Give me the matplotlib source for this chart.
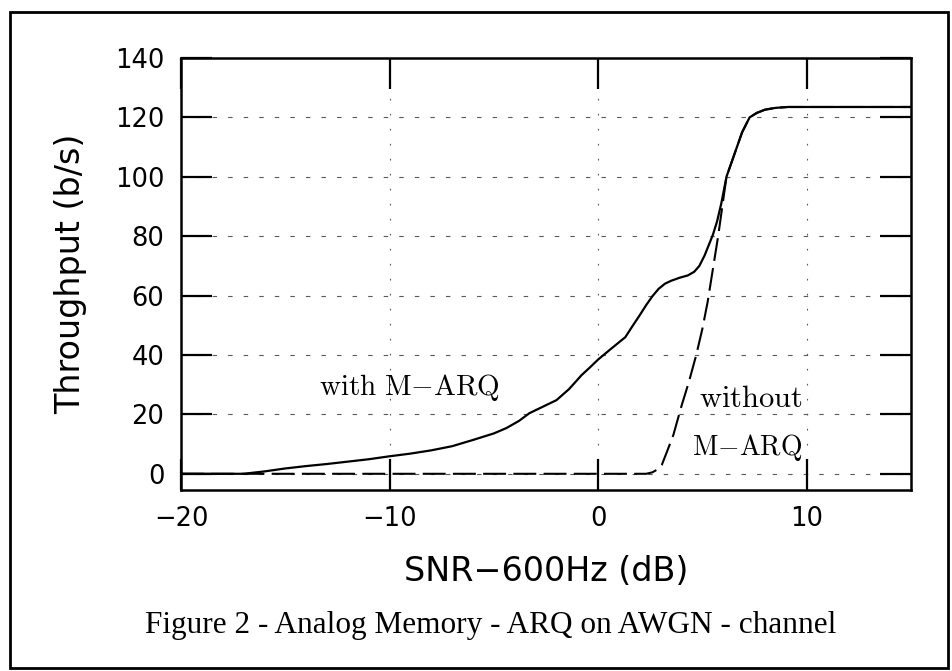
import matplotlib
matplotlib.use("Agg")
import matplotlib.pyplot as plt
from matplotlib.patches import Rectangle

plt.rcParams['mathtext.fontset'] = 'cm'
plt.rcParams['axes.unicode_minus'] = True

# throughput curves
with_x = [-20, -17, -16, -15, -14, -13, -12, -11, -10, -9, -8, -7, -6, -5, -4.4,
          -3.8, -3.3, -2.65, -2, -1.4, -0.8, -0.4, 0, 0.6, 1.3, 1.65, 2, 2.3, 2.6,
          2.9, 3.2, 3.5, 3.9, 4.3, 4.6, 4.85, 5.1, 5.3, 5.5, 5.7, 5.9, 6.15, 6.35,
          6.6, 6.9, 7.26, 7.6, 8.0, 8.5, 9.1, 10, 15]
with_y = [0, 0, 0.8, 1.8, 2.6, 3.3, 4.1, 4.9, 5.9, 6.8, 7.9, 9.3, 11.4, 13.6, 15.4,
          17.8, 20.4, 22.6, 24.8, 28.5, 33.2, 35.8, 38.5, 42, 46, 49.8, 53.5, 56.8, 59.8,
          62.3, 64, 65, 66, 66.8, 68, 70, 73.5, 77, 80.5, 85, 91, 100, 104,
          109, 115, 120, 121.5, 122.6, 123.2, 123.5, 123.5, 123.5]

without_x = [-20, 2.3, 2.6, 2.85, 3.05, 3.3, 3.6, 4.0, 4.35, 4.7, 5.0, 5.25, 5.5,
             5.75, 5.95, 6.15, 6.35, 6.6, 6.9, 7.26, 7.6, 8.0, 8.5, 9.1, 10, 15]
without_y = [0, 0, 0.5, 1.5, 3, 7.5, 13, 23, 31, 40, 49, 58, 69,
             80, 90, 100, 104, 109, 115, 120, 121.5, 122.6, 123.2, 123.5, 123.5, 123.5]

xticks = [-20, -10, 0, 10]
yticks = [0, 20, 40, 60, 80, 100, 120, 140]

fig = plt.figure(figsize=(9.53, 6.71), dpi=100)
ax = fig.add_axes([0.190, 0.270, 0.766, 0.6436])

ax.plot(with_x, with_y, color='black', lw=1.6, solid_joinstyle='round')
ax.plot(without_x, without_y, color='black', lw=1.5, linestyle=(0, (11, 3.5)))

ax.set_xlim(-20, 15)
ax.set_ylim(-5.4, 140)
ax.set_xticks(xticks)
ax.set_yticks(yticks)

# grid: dashed horizontals, dotted verticals
for y in yticks[:-1]:
    ax.axhline(y, color='0.35', lw=0.8, linestyle=(0, (4, 10)), zorder=0)
for x in xticks[1:]:
    ax.axvline(x, color='0.35', lw=0.8, linestyle=(0, (1.5, 12)), zorder=0)

ax.tick_params(direction='in', length=22, width=1.6, top=True, right=True,
               labelsize=18.5, pad=12, colors='black')
for s in ax.spines.values():
    s.set_linewidth(1.8)

ax.set_ylabel('Throughput (b/s)', fontsize=24, labelpad=20)
ax.set_xlabel('SNR\u2212600Hz (dB)', fontsize=24, labelpad=16)

ax.text(-13.4, 29, r'$\mathrm{with\ M{-}ARQ}$', fontsize=21, va='center')
ax.text(4.85, 25.5, r'$\mathrm{without}$', fontsize=22, va='center')
ax.text(4.5, 9, r'$\mathrm{M{-}ARQ}$', fontsize=20, va='center')

fig.text(0.515, 0.068, 'Figure 2 - Analog Memory - ARQ on AWGN - channel',
         fontsize=22.5, family='Liberation Serif', ha='center', va='center')

fig.patches.append(Rectangle((10 / 953, 1 - 668 / 671), 938 / 953, 656 / 671,
                             transform=fig.transFigure, fill=False,
                             edgecolor='black', lw=2))

fig.savefig('out.png', dpi=100)
